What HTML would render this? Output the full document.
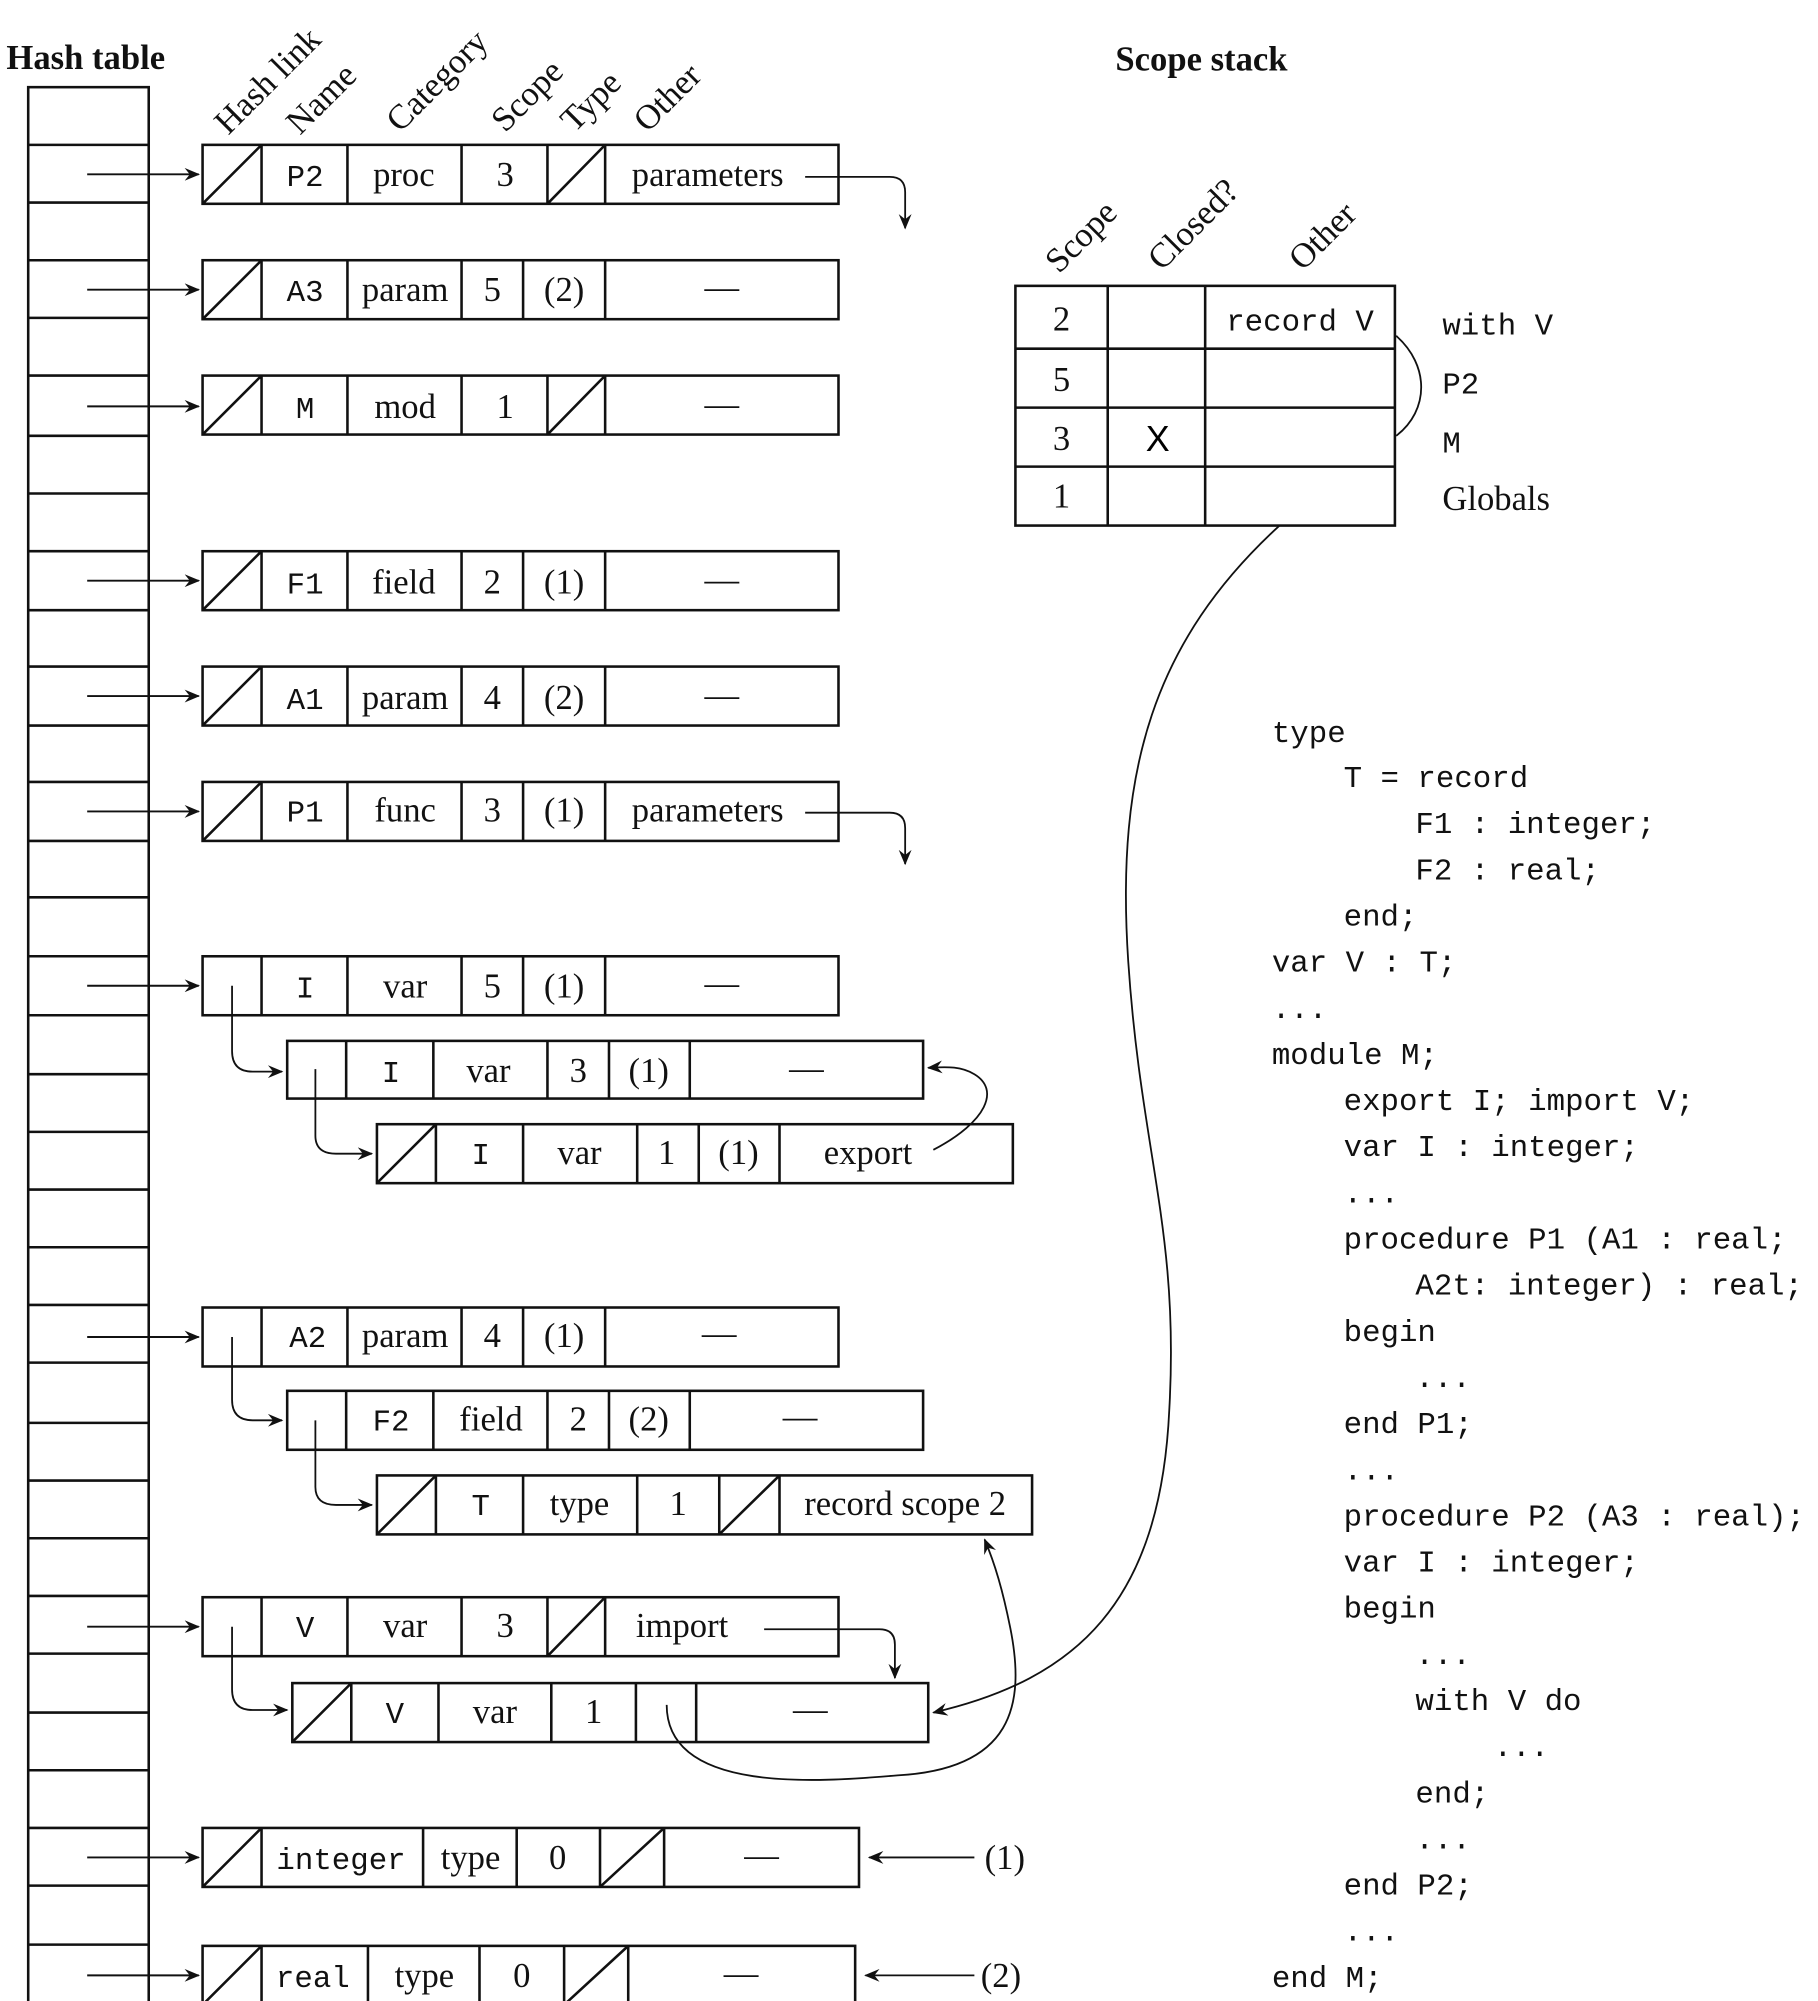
<!DOCTYPE html>
<html><head><meta charset="utf-8"><style>
html,body{margin:0;padding:0;background:#fff}
svg{display:block}
.s{font-family:"Liberation Serif",serif;font-size:27px;fill:#111}
.m{font-family:"Liberation Mono",monospace;font-size:24px;fill:#111}
.b{font-family:"Liberation Serif",serif;font-size:27px;font-weight:bold;fill:#111}
.h{font-family:"Liberation Serif",serif;font-size:27px;fill:#111}
</style></head><body>
<svg width="1818" height="2001" viewBox="0 0 1418 1561" preserveAspectRatio="none" xmlns="http://www.w3.org/2000/svg">
<defs>
<marker id="a" viewBox="0 0 12 10" refX="11" refY="5" markerWidth="12" markerHeight="10" orient="auto" markerUnits="userSpaceOnUse">
<path d="M0,0 L12,5 L0,10 L4,5 Z" fill="#111"/></marker>
</defs>
<g stroke="#111" fill="none" stroke-width="2">
<rect x="22" y="68" width="94" height="1494"/>
<path d="M22,113H116M22,158H116M22,203H116M22,248H116M22,293H116M22,340H116M22,385H116M22,430H116M22,476H116M22,520H116M22,566H116M22,610H116M22,656H116M22,700H116M22,746H116M22,792H116M22,838H116M22,883H116M22,928H116M22,973H116M22,1018H116M22,1063H116M22,1110H116M22,1155H116M22,1200H116M22,1245H116M22,1290H116M22,1336H116M22,1381H116M22,1426H116M22,1471H116M22,1517H116"/>
</g>
<g stroke="#111" fill="none" stroke-width="1.5" marker-end="url(#a)">
<path d="M68,136H155"/><path d="M68,226H155"/><path d="M68,317H155"/><path d="M68,453H155"/><path d="M68,543H155"/><path d="M68,633H155"/><path d="M68,769H155"/><path d="M68,1043H155"/><path d="M68,1269H155"/><path d="M68,1449H155"/><path d="M68,1541H155"/>
</g>

<g stroke="#111" fill="none" stroke-width="2">
<rect x="158" y="113" width="496" height="46"/><path d="M204,113V159M271,113V159M360,113V159M427,113V159M472,113V159M158,159L204,113M427,159L472,113"/>
<rect x="158" y="203" width="496" height="46"/><path d="M204,203V249M271,203V249M360,203V249M408,203V249M472,203V249M158,249L204,203"/>
<rect x="158" y="293" width="496" height="46"/><path d="M204,293V339M271,293V339M360,293V339M427,293V339M472,293V339M158,339L204,293M427,339L472,293"/>
<rect x="158" y="430" width="496" height="46"/><path d="M204,430V476M271,430V476M360,430V476M408,430V476M472,430V476M158,476L204,430"/>
<rect x="158" y="520" width="496" height="46"/><path d="M204,520V566M271,520V566M360,520V566M408,520V566M472,520V566M158,566L204,520"/>
<rect x="158" y="610" width="496" height="46"/><path d="M204,610V656M271,610V656M360,610V656M408,610V656M472,610V656M158,656L204,610"/>
<rect x="158" y="746" width="496" height="46"/><path d="M204,746V792M271,746V792M360,746V792M408,746V792M472,746V792"/>
<rect x="224" y="812" width="496" height="45"/><path d="M270,812V857M338,812V857M427,812V857M475,812V857M538,812V857"/>
<rect x="294" y="877" width="496" height="46"/><path d="M340,877V923M408,877V923M497,877V923M545,877V923M608,877V923M294,923L340,877"/>
<rect x="158" y="1020" width="496" height="46"/><path d="M204,1020V1066M271,1020V1066M360,1020V1066M408,1020V1066M472,1020V1066"/>
<rect x="224" y="1085" width="496" height="46"/><path d="M270,1085V1131M338,1085V1131M427,1085V1131M475,1085V1131M538,1085V1131"/>
<rect x="294" y="1151" width="511" height="46"/><path d="M340,1151V1197M408,1151V1197M497,1151V1197M561,1151V1197M608,1151V1197M294,1197L340,1151M561,1197L608,1151"/>
<rect x="158" y="1246" width="496" height="46"/><path d="M204,1246V1292M271,1246V1292M360,1246V1292M427,1246V1292M472,1246V1292M427,1292L472,1246"/>
<rect x="228" y="1313" width="496" height="46"/><path d="M274,1313V1359M342,1313V1359M430,1313V1359M496,1313V1359M543,1313V1359M228,1359L274,1313"/>
<rect x="158" y="1426" width="512" height="46"/><path d="M204,1426V1472M330,1426V1472M403,1426V1472M468,1426V1472M518,1426V1472M158,1472L204,1426M468,1472L518,1426"/>
<rect x="158" y="1518" width="509" height="46"/><path d="M204,1518V1564M287,1518V1564M374,1518V1564M440,1518V1564M490,1518V1564M158,1564L204,1518M440,1564L490,1518"/>
<rect x="792" y="223" width="296" height="187"/><path d="M864,223V410M940,223V410M792,272H1088M792,318H1088M792,364H1088"/>
</g>

<g stroke="#111" fill="none" stroke-width="1.4" marker-end="url(#a)">
<path d="M628,138H694Q706,138 706,150V178"/>
<path d="M628,634H694Q706,634 706,646V674"/>
<path d="M181,769V820Q181,836 197,836H220"/>
<path d="M246,834V886Q246,900 262,900H290"/>
<path d="M181,1043V1092Q181,1108 197,1108H220"/>
<path d="M246,1108V1160Q246,1174 262,1174H290"/>
<path d="M181,1269V1318Q181,1334 197,1334H224"/>
<path d="M596,1271H686Q698,1271 698,1283V1309"/>
<path d="M728,897C770,875 780,850 760,838C750,832 740,832 724,833"/>
<path d="M520,1330C520,1400 640,1390 700,1385C790,1380 800,1330 788,1270C782,1240 776,1220 768,1201"/>
<path d="M998,410C900,500 870,600 880,750C890,900 920,960 912,1100C905,1250 840,1310 728,1336"/>
<path d="M760,1449H678"/><path d="M760,1541H675"/>
</g>
<path d="M1089,262C1115,285 1115,320 1089,340" stroke="#111" fill="none" stroke-width="1.4"/>

<text class="b" x="5" y="54">Hash table</text>
<text class="b" x="870" y="55">Scope stack</text>
<g class="h">
<text transform="translate(178,106) rotate(-45)">Hash link</text>
<text transform="translate(234,106) rotate(-45)">Name</text>
<text transform="translate(312,104) rotate(-45)">Category</text>
<text transform="translate(394,104) rotate(-45)">Scope</text>
<text transform="translate(448,104) rotate(-45)">Type</text>
<text transform="translate(505,104) rotate(-45)">Other</text>
<text transform="translate(826,214) rotate(-45)">Scope</text>
<text transform="translate(906,212) rotate(-45)">Closed?</text>
<text transform="translate(1016,212) rotate(-45)">Other</text>
</g>
<g text-anchor="middle">
<text class="m" x="238" y="145">P2</text><text class="s" x="315" y="145">proc</text><text class="s" x="394" y="145">3</text><text class="s" x="552" y="145">parameters</text>
<text class="m" x="238" y="235">A3</text><text class="s" x="316" y="235">param</text><text class="s" x="384" y="235">5</text><text class="s" x="440" y="235">(2)</text><text class="s" x="563" y="233">—</text>
<text class="m" x="238" y="326">M</text><text class="s" x="316" y="326">mod</text><text class="s" x="394" y="326">1</text><text class="s" x="563" y="324">—</text>
<text class="m" x="238" y="463">F1</text><text class="s" x="315" y="463">field</text><text class="s" x="384" y="463">2</text><text class="s" x="440" y="463">(1)</text><text class="s" x="563" y="461">—</text>
<text class="m" x="238" y="553">A1</text><text class="s" x="316" y="553">param</text><text class="s" x="384" y="553">4</text><text class="s" x="440" y="553">(2)</text><text class="s" x="563" y="551">—</text>
<text class="m" x="238" y="641">P1</text><text class="s" x="316" y="641">func</text><text class="s" x="384" y="641">3</text><text class="s" x="440" y="641">(1)</text><text class="s" x="552" y="641">parameters</text>
<text class="m" x="238" y="778">I</text><text class="s" x="316" y="778">var</text><text class="s" x="384" y="778">5</text><text class="s" x="440" y="778">(1)</text><text class="s" x="563" y="776">—</text>
<text class="m" x="305" y="844">I</text><text class="s" x="381" y="844">var</text><text class="s" x="451" y="844">3</text><text class="s" x="506" y="844">(1)</text><text class="s" x="629" y="842">—</text>
<text class="m" x="375" y="908">I</text><text class="s" x="452" y="908">var</text><text class="s" x="520" y="908">1</text><text class="s" x="576" y="908">(1)</text><text class="s" x="677" y="908">export</text>
<text class="m" x="240" y="1051">A2</text><text class="s" x="316" y="1051">param</text><text class="s" x="384" y="1051">4</text><text class="s" x="440" y="1051">(1)</text><text class="s" x="561" y="1049">—</text>
<text class="m" x="305" y="1116">F2</text><text class="s" x="383" y="1116">field</text><text class="s" x="451" y="1116">2</text><text class="s" x="506" y="1116">(2)</text><text class="s" x="624" y="1114">—</text>
<text class="m" x="375" y="1182">T</text><text class="s" x="452" y="1182">type</text><text class="s" x="529" y="1182">1</text><text class="s" x="706" y="1182">record scope 2</text>
<text class="m" x="238" y="1277">V</text><text class="s" x="316" y="1277">var</text><text class="s" x="394" y="1277">3</text><text class="s" x="532" y="1277">import</text>
<text class="m" x="308" y="1344">V</text><text class="s" x="386" y="1344">var</text><text class="s" x="463" y="1344">1</text><text class="s" x="632" y="1342">—</text>
<text class="m" x="266" y="1458">integer</text><text class="s" x="367" y="1458">type</text><text class="s" x="435" y="1458">0</text><text class="s" x="594" y="1456">—</text>
<text class="m" x="244" y="1550">real</text><text class="s" x="331" y="1550">type</text><text class="s" x="407" y="1550">0</text><text class="s" x="578" y="1548">—</text>
<text class="s" x="828" y="258">2</text><text class="s" x="828" y="305">5</text><text class="s" x="828" y="351">3</text><text class="s" x="828" y="396">1</text>
<text x="903" y="352" style="font-family:'Liberation Sans',sans-serif;font-size:28px">X</text>
<text class="m" x="1014" y="258">record V</text>
</g>
<text class="s" x="768" y="1458">(1)</text><text class="s" x="765" y="1550">(2)</text>
<text class="m" x="1125" y="261">with V</text><text class="m" x="1125" y="307">P2</text><text class="m" x="1125" y="353">M</text>
<text class="s" x="1125" y="398">Globals</text>
<g class="m" xml:space="preserve">
<text x="992" y="579">type</text>
<text x="1048" y="614">T = record</text>
<text x="1104" y="650">F1 : integer;</text>
<text x="1104" y="686">F2 : real;</text>
<text x="1048" y="722">end;</text>
<text x="992" y="758">var V : T;</text>
<text x="992" y="794">...</text>
<text x="992" y="830">module M;</text>
<text x="1048" y="866">export I; import V;</text>
<text x="1048" y="902">var I : integer;</text>
<text x="1048" y="938">...</text>
<text x="1048" y="974">procedure P1 (A1 : real;</text>
<text x="1104" y="1010">A2t: integer) : real;</text>
<text x="1048" y="1046">begin</text>
<text x="1104" y="1082">...</text>
<text x="1048" y="1118">end P1;</text>
<text x="1048" y="1154">...</text>
<text x="1048" y="1190">procedure P2 (A3 : real);</text>
<text x="1048" y="1226">var I : integer;</text>
<text x="1048" y="1262">begin</text>
<text x="1104" y="1298">...</text>
<text x="1104" y="1334">with V do</text>
<text x="1165" y="1370">...</text>
<text x="1104" y="1406">end;</text>
<text x="1104" y="1442">...</text>
<text x="1048" y="1478">end P2;</text>
<text x="1048" y="1514">...</text>
<text x="992" y="1550">end M;</text>
</g>
</svg>
</body></html>
